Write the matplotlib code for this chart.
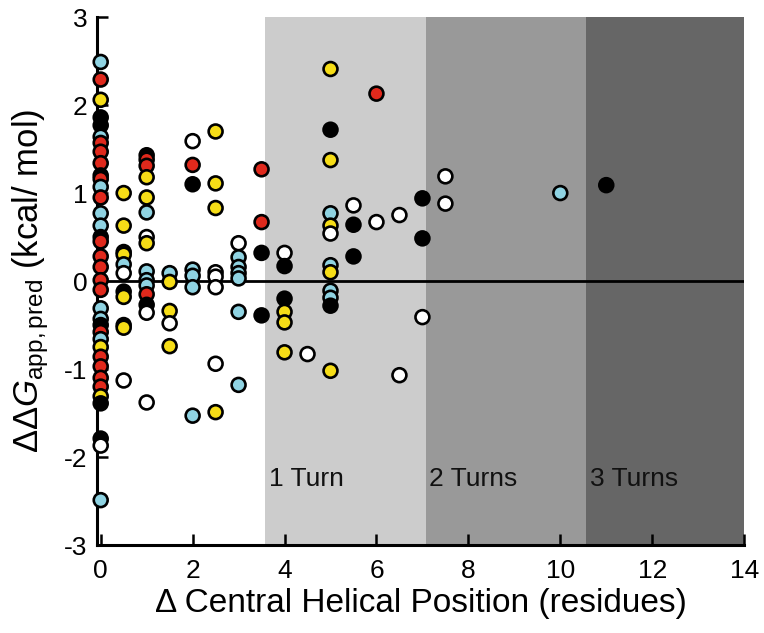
import matplotlib
matplotlib.use("Agg")
import matplotlib.pyplot as plt
import numpy as np

plt.rcParams['font.family'] = ['Liberation Sans', 'DejaVu Sans']
plt.rcParams['mathtext.fontset'] = 'custom'
plt.rcParams['mathtext.rm'] = 'Liberation Sans'
plt.rcParams['mathtext.it'] = 'Liberation Sans:italic'
plt.rcParams['axes.unicode_minus'] = False

# ---- data ----
cyan_x = [0, 0, 0, 0, 0, 0, 0, 0, 0,
          0.5,
          1, 1, 1, 1,
          1.5,
          2, 2, 2, 2,
          3, 3, 3, 3, 3, 3,
          5, 5, 5, 5,
          10]
cyan_y = [2.49, 1.64, 1.07, 0.77, 0.63, -0.31, -0.43, -0.66, -2.49,
          0.19,
          0.78, 0.11, 0.01, -0.05,
          0.09,
          0.13, 0.06, -0.07, -1.53,
          0.27, 0.16, 0.09, 0.03, -0.35, -1.18,
          0.77, 0.18, -0.11, -0.19,
          1.00]

red_x = [0] * 16 + [1, 1, 1, 2, 3.5, 3.5, 6]
red_y = [2.29, 1.57, 1.47, 1.34, 1.16, 0.95, 0.45, 0.28, 0.16, 0.01, -0.10,
         -0.58, -0.86, -0.97, -1.10, -1.20,
         1.38, 1.31, -0.15, 1.32, 1.27, 0.67, 2.13]

yellow_x = [0, 0, 0,
            0.5, 0.5, 0.5, 0.5, 0.5,
            1, 1, 1,
            1.5, 1.5, 1.5,
            2.5, 2.5, 2.5, 2.5,
            4, 4, 4,
            5, 5, 5, 5, 5]
yellow_y = [2.06, -0.75, -1.31,
            1.00, 0.63, 0.30, -0.18, -0.53,
            1.18, 0.95, 0.43,
            -0.01, -0.34, -0.74,
            1.70, 1.11, 0.83, -1.49,
            -0.35, -0.47, -0.81,
            2.41, 1.375, 0.63, 0.10, -1.02]

black_x = [0, 0, 0, 0, 0, 0, 0,
           0.5, 0.5, 0.5,
           1, 1,
           2,
           3.5, 3.5,
           4, 4,
           5, 5,
           5.5, 5.5,
           7, 7,
           11]
black_y = [1.86, 1.77, 1.20, 0.50, -0.50, -1.39, -1.79,
           0.33, -0.12, -0.50,
           1.43, -0.27,
           1.10,
           0.32, -0.39,
           0.17, -0.20,
           1.72, -0.28,
           0.64, 0.28,
           0.94, 0.485,
           1.09]

white_x = [0,
           0.5, 0.5,
           1, 1, 1,
           1.5,
           2,
           2.5, 2.5, 2.5, 2.5,
           3,
           4,
           4.5,
           5,
           5.5,
           6,
           6.5, 6.5,
           7,
           7.5, 7.5]
white_y = [-1.87,
           0.09, -1.13,
           0.50, -0.36, -1.38,
           -0.48,
           1.59,
           0.10, 0.05, -0.07, -0.94,
           0.43,
           0.32,
           -0.83,
           0.54,
           0.86,
           0.67,
           0.75, -1.07,
           -0.41,
           1.19, 0.88]

turn_edges = [3.58, 7.07, 10.56, 14.0]
turn_labels = ["1 Turn", "2 Turns", "3 Turns"]
turn_colors = ["#cccccc", "#999999", "#666666"]

x_ticks = [0, 2, 4, 6, 8, 10, 12, 14]
y_ticks = [-3, -2, -1, 0, 1, 2, 3]

# ---- figure ----
fig = plt.figure(figsize=(7.64, 6.33), dpi=100)
ax = fig.add_axes([0.127, 0.139, 0.847, 0.834])

for i in range(3):
    ax.axvspan(turn_edges[i], turn_edges[i + 1], color=turn_colors[i], lw=0, zorder=0)
    ax.text(turn_edges[i] + 0.08, -2.25, turn_labels[i], fontsize=19,
            ha='left', va='center', color='#111111', zorder=1)

ax.plot([0, 14], [0, 0], color='black', lw=2, zorder=2)

col_map = {'cyan': '#8fd3e2', 'red': '#e0291c', 'yellow': '#f6dd17',
           'black': '#000000', 'white': '#ffffff'}
groups = [('cyan', cyan_x, cyan_y), ('red', red_x, red_y),
          ('yellow', yellow_x, yellow_y), ('black', black_x, black_y),
          ('white', white_x, white_y)]
all_x, all_y, all_c = [], [], []
for name, xs, ys in groups:
    all_x += xs
    all_y += ys
    all_c += [col_map[name]] * len(xs)
all_x = np.array(all_x, dtype=float)
all_y = np.array(all_y, dtype=float)
all_c = np.array(all_c)
order = np.argsort(-all_y, kind='stable')
ax.scatter(all_x[order], all_y[order], s=100, c=all_c[order],
           edgecolors='black', linewidths=1.9, zorder=3, clip_on=False)

ax.set_xlim(-0.08, 14)
ax.set_ylim(-3, 3)
ax.set_xticks(x_ticks)
ax.set_yticks(y_ticks)
ax.tick_params(axis='x', direction='in', length=8, width=1.8, labelsize=19, pad=10)
ax.tick_params(axis='y', direction='in', length=8, width=1.8, labelsize=19, pad=7)
for s in ['top', 'right']:
    ax.spines[s].set_visible(False)
for s in ['left', 'bottom']:
    ax.spines[s].set_linewidth(2.2)

ax.set_xlabel('Δ Central Helical Position (residues)', fontsize=24, labelpad=4)
ax.set_ylabel(r'$\Delta\Delta \mathit{G}_{\mathrm{app,pred}}$ (kcal/ mol)', fontsize=25, labelpad=9)

fig.savefig('out.png', dpi=100)
